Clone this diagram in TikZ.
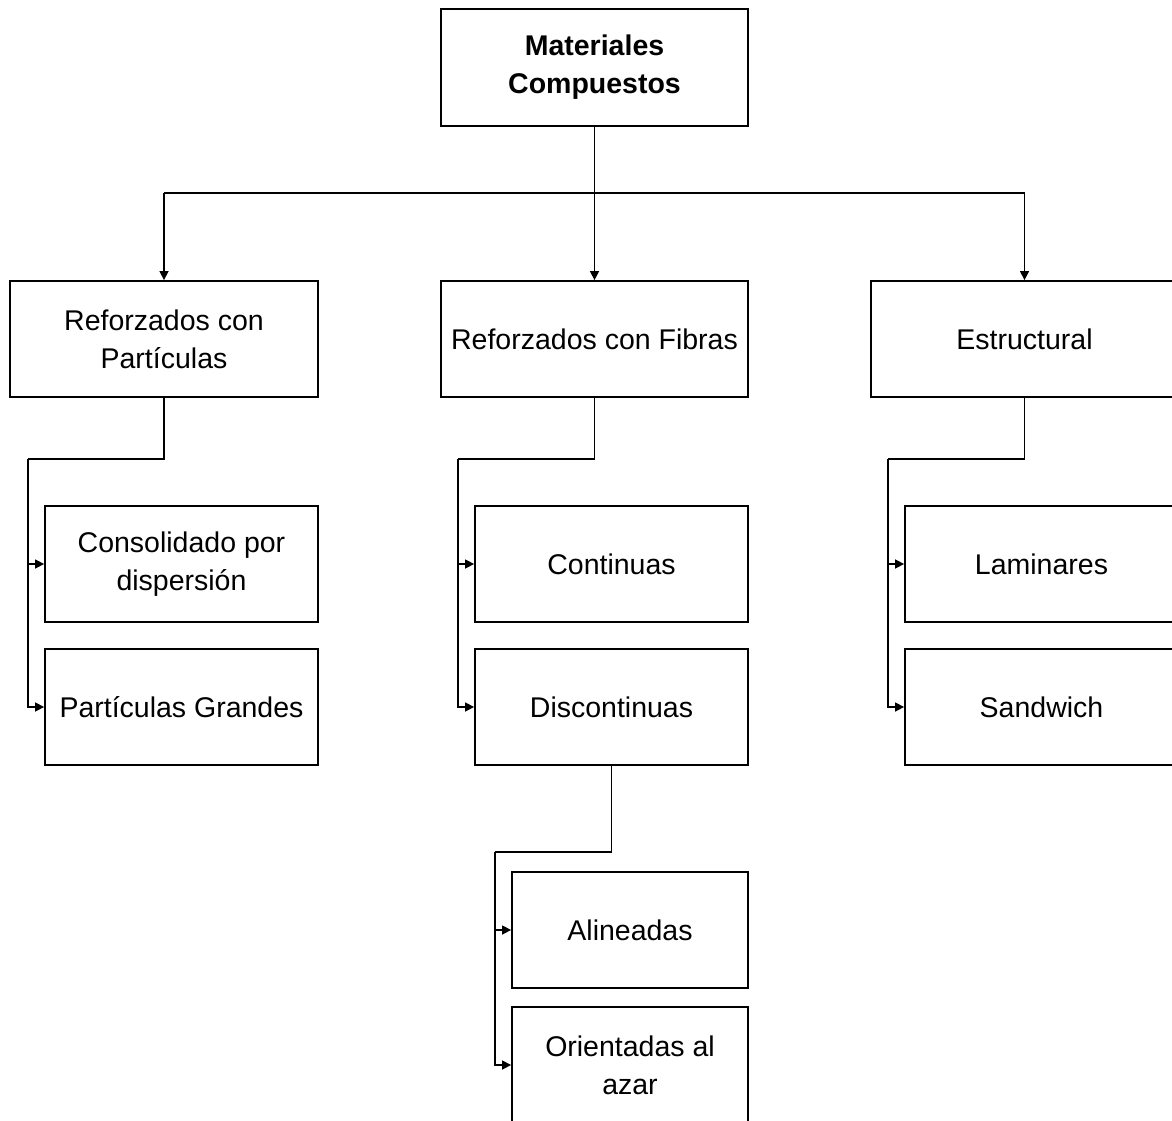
\documentclass[tikz,border=0pt]{standalone}
\usepackage{fontspec}
\setmainfont{Liberation Sans}
\usetikzlibrary{arrows.meta}
\tikzset{
  box/.style={draw, line width=1.8pt, rectangle, align=center, inner sep=0pt,
    font=\fontsize{28.5}{38}\selectfont},
  conn/.style={line width=1.5pt},
  arr/.style={conn, -{Triangle[length=9pt,width=9pt]}}
}
\begin{document}
\begin{tikzpicture}[x=1pt,y=-1pt]
\useasboundingbox (0,0) rectangle (1172,1121);
\clip (0,0) rectangle (1172,1121);
% level 0
\node[box, minimum width=307pt, minimum height=117pt, font=\bfseries\fontsize{28.5}{38}\selectfont] (top) at (594.5,67.5) {Materiales\\Compuestos};
% level 1
\node[box, minimum width=308pt, minimum height=116pt] (p) at (164,339) {Reforzados con\\Partículas};
\node[box, minimum width=307pt, minimum height=116pt] (f) at (594.5,339) {Reforzados con Fibras};
\node[box, minimum width=307pt, minimum height=116pt] (e) at (1024.5,339) {Estructural};
% level 2
\node[box, minimum width=273pt, minimum height=116pt] (p1) at (181.5,564) {Consolidado por\\dispersión};
\node[box, minimum width=273pt, minimum height=116pt] (p2) at (181.5,707) {Partículas Grandes};
\node[box, minimum width=273pt, minimum height=116pt] (f1) at (611.5,564) {Continuas};
\node[box, minimum width=273pt, minimum height=116pt] (f2) at (611.5,707) {Discontinuas};
\node[box, minimum width=273pt, minimum height=116pt] (e1) at (1041.5,564) {Laminares};
\node[box, minimum width=273pt, minimum height=116pt] (e2) at (1041.5,707) {Sandwich};
% level 3
\node[box, minimum width=236pt, minimum height=116pt] (d1) at (630,930) {Alineadas};
\node[box, minimum width=236pt, minimum height=116pt] (d2) at (630,1065) {Orientadas al\\azar};
% connectors
\coordinate (bl) at (164,193);
\coordinate (br) at (1024.5,193);
\draw[arr] (top.south) -- (f.north);
\draw[conn] (bl) -- (br);
\draw[arr] (bl) -- (p.north);
\draw[arr] (br) -- (e.north);
\coordinate (pk) at (28,459);
\coordinate (fk) at (458,459);
\coordinate (ek) at (888,459);
\coordinate (dk) at (495,852);
\draw[conn] (p.south) |- (pk);
\draw[arr] (pk) |- (p1.west);
\draw[arr] (pk) |- (p2.west);
\draw[conn] (f.south) |- (fk);
\draw[arr] (fk) |- (f1.west);
\draw[arr] (fk) |- (f2.west);
\draw[conn] (e.south) |- (ek);
\draw[arr] (ek) |- (e1.west);
\draw[arr] (ek) |- (e2.west);
\draw[conn] (f2.south) |- (dk);
\draw[arr] (dk) |- (d1.west);
\draw[arr] (dk) |- (d2.west);
\end{tikzpicture}
\end{document}
